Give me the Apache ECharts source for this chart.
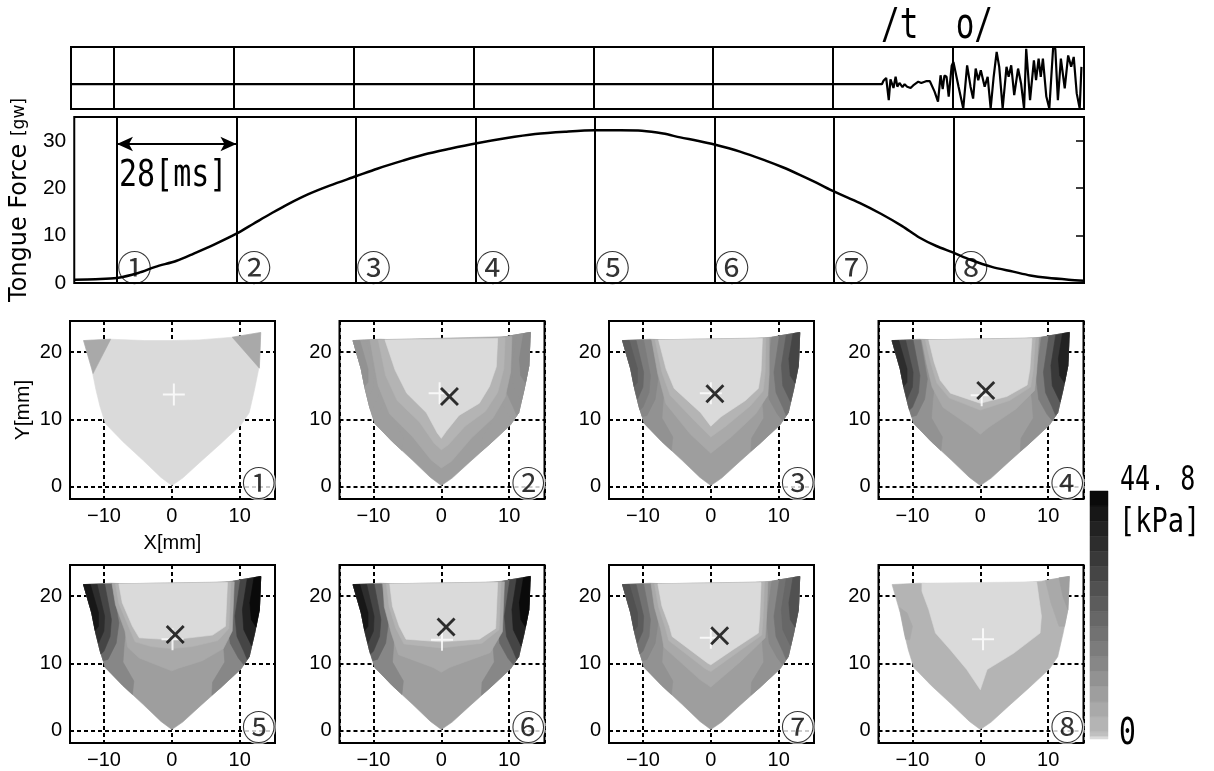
<!DOCTYPE html>
<html><head><meta charset="utf-8">
<script src="https://cdn.jsdelivr.net/npm/echarts@6/dist/echarts.min.js"></script>
<style>html,body{margin:0;padding:0;background:#fff}#c{width:1214px;height:771px}</style>
</head><body><div id="c"></div>
<script>
// ---------- data ----------
const markerTimes = [0, 28, 56, 84, 112, 140, 168, 196];
const markerNames = ['①','②','③','④','⑤','⑥','⑦','⑧'];

const forceT = [-10,-5,0,5,9,14,18,23,28,32,36,40,45,50,56,61,67,72,78,84,91,98,105,112,118,123,128,132,136,140,146,152,156,160,164,168,174,179,184,188,192,196,200,205,210,214,218,223,226.6];
const forceV = [0.7,0.8,1.05,2.1,3.4,4.7,6.2,8.2,10.4,12.5,14.6,16.6,18.8,20.6,22.5,24.1,25.8,27.1,28.3,29.4,30.5,31.4,31.9,32.2,32.2,32.1,31.5,30.7,30.0,29.2,27.7,25.8,24.4,22.8,21.1,19.3,16.9,14.6,12.0,9.6,7.8,6.4,4.9,3.4,2.4,1.6,1.1,0.7,0.5];

const audioT = [-10,179.4,179.8,180.4,181.0,181.4,181.8,182.1,182.6,183.0,183.5,184.2,184.7,185.3,186.1,186.7,187.9,188.6,189.7,190.6,191.7,192.5,193.1,193.6,194.0,194.5,195.0,195.7,196.1,197.3,198.4,199.3,200.1,200.7,201.3,201.9,202.5,203.4,204.1,204.8,205.5,206.2,206.8,207.6,208.5,209.0,209.6,210.3,211.2,211.9,212.6,213.1,214.0,214.9,215.4,216.0,216.5,217.0,217.8,218.5,219.4,219.9,220.5,221.2,222.1,222.9,223.6,224.2,224.9,225.6,226.0];
const audioV = [0,0,0.15,0.25,-0.64,0.2,0.25,-0.15,0.3,-0.1,0.05,-0.12,0.0,-0.1,-0.15,-0.05,0.1,0.05,0.12,0.12,-0.3,-0.7,0.36,-0.2,0.35,0.3,-0.5,0.75,0.9,-0.1,-0.98,0.76,-0.1,-0.58,0.63,0.16,0.56,-0.1,0.3,-0.98,0.3,1.3,0.7,-0.98,0.7,0.3,0.76,-0.44,0.63,0.03,-0.98,1.43,-0.64,0.96,0.16,1.03,0.3,1.03,-0.5,-0.98,1.5,1.43,-0.64,1.03,-0.17,1.16,0.7,1.1,-0.37,-0.98,0.7];

// pressure level colours (band 0 = lowest) and colour-bar band edges [kPa]
const greys = ['#dadada','#c0c0c0','#b4b4b4','#a9a9a9','#9e9e9e','#929292','#878787','#7c7c7c','#727272','#676767','#5c5c5c','#515151','#454545','#393939','#2d2d2d','#222222','#171717','#0a0a0a'];
const cbEdges = [0,0.5,1.3,4.0,6.7,9.5,12.2,14.9,17.6,20.3,23.0,25.8,28.5,31.2,33.9,36.6,39.3,42.1,44.8];

// sensor-sheet outline [mm]
const outline = [[-13.0,21.7],[-9.0,21.9],[-4.0,21.7],[0,21.7],[4.0,21.8],[9.0,22.2],[13.1,22.9],[12.9,18.0],[12.2,14.5],[11.4,11.0],[10.2,9.2],[7.2,6.4],[4.2,3.7],[1.6,1.3],[0,0.2],[-1.6,1.4],[-4.2,3.9],[-7.2,6.7],[-9.8,9.4],[-10.6,12.0],[-11.2,14.5],[-11.8,17.5]];
// wall bands (widest -> narrowest)
const LW5 = [[-13,21.7],[-7.8,21.8],[-6.6,16],[-7.0,13],[-7.2,10.2],[-5.6,7.4],[-5.8,5.4],[-7.2,6.7],[-9.8,9.4],[-10.6,12],[-11.2,14.5],[-11.8,17.5]];
const LW4 = [[-13,21.7],[-8.8,21.8],[-7.8,16],[-8.2,13],[-9.4,10.6],[-10.1,10.4],[-10.6,12],[-11.2,14.5],[-11.8,17.5]];
const LW3 = [[-13,21.7],[-9.9,21.8],[-8.9,16.5],[-9.1,14],[-10.0,11.8],[-10.45,11.4],[-10.6,12],[-11.2,14.5],[-11.8,17.5]];
const LW2 = [[-13,21.7],[-11.0,21.7],[-9.9,17],[-10.0,14.8],[-10.8,13.0],[-11.2,14.5],[-11.8,17.5]];
const LW1 = [[-13,21.7],[-12.0,21.7],[-10.8,17.5],[-10.8,15.5],[-11.3,14.9],[-11.8,17.5]];
const RW5 = [[13.1,22.9],[7.9,22.0],[7.0,16.5],[7.6,13],[7.8,10.2],[6.0,7.2],[5.9,5.3],[7.2,6.4],[10.2,9.2],[11.4,11],[12.2,14.5],[12.9,18]];
const RW4 = [[13.1,22.9],[9.0,22.2],[8.2,16.5],[8.6,13],[9.8,10.8],[10.6,9.8],[11.4,11],[12.2,14.5],[12.9,18]];
const RW3 = [[13.1,22.9],[10.1,22.4],[9.3,17],[9.6,14],[10.6,11.8],[11.1,10.6],[11.4,11],[12.2,14.5],[12.9,18]];
const RW2 = [[13.1,22.9],[11.1,22.5],[10.4,18],[10.6,15],[11.75,12.6],[12.2,14.5],[12.9,18]];
const RW1 = [[13.1,22.9],[12.1,22.7],[11.5,19],[11.7,16.5],[12.4,15.4],[12.9,18]];

const p2L  = [[-8.3,21.8],[8.3,22.0],[8.1,17.8],[7.1,14.9],[5.6,12.4],[2.6,10.6],[0.7,8.2],[0,7.2],[-0.6,8.0],[-2.2,11.0],[-5.1,13.9],[-6.8,17.3]];
const p2V2 = [[-9.3,21.8],[9.4,22.1],[9.2,17.5],[8.3,14],[6.5,11.2],[3.5,9.0],[1.0,6.2],[0,5.5],[-1.0,6.4],[-3.2,9.6],[-6.5,12.8],[-8.2,16.5]];
const p2V1 = [[-10.5,21.8],[10.4,22.3],[10.2,17],[9.4,13.3],[7.6,10.2],[4.4,7.2],[1.5,3.8],[0,2.8],[-1.5,4.0],[-4.2,7.4],[-7.6,10.8],[-9.3,15]];
const p3L  = [[-7.7,21.8],[7.6,22.0],[7.4,17.2],[7.0,14.6],[5.1,12.8],[1.5,10.4],[0,9.0],[-1.5,11.0],[-5.4,14.6],[-6.6,17.5]];
const p3V2 = [[-8.2,21.8],[8.1,22.05],[8.0,17],[7.7,14.2],[5.8,12.0],[2.2,9.0],[0,7.4],[-2.2,9.6],[-6.0,13.6],[-7.2,17]];
const p3V1 = [[-8.7,21.8],[8.6,22.1],[8.6,16.8],[8.4,13.6],[6.6,10.8],[3.0,7.4],[0,5.0],[-3.0,7.8],[-6.6,12.3],[-7.8,16.8]];
const p4L  = [[-7.6,21.8],[7.6,22.0],[7.3,17.5],[6.9,15.1],[3.9,13.4],[0,12.4],[-4.4,13.9],[-5.9,15.8],[-6.8,18.5]];
const p4V2 = [[-8.1,21.8],[8.1,22.05],[7.8,17.4],[7.4,14.8],[4.3,12.8],[0,11.4],[-4.6,13.2],[-6.4,15.4],[-7.3,18.4]];
const p4V1 = [[-8.6,21.8],[8.6,22.1],[8.3,17.2],[8.0,14.3],[5.2,11.5],[1.2,8.8],[0,7.8],[-1.2,8.8],[-5.5,11.8],[-7.1,14.8],[-7.9,18.2]];
const p5L  = [[-7.8,21.8],[8.2,22.0],[7.9,15.5],[6.0,14.2],[0.1,13.5],[-4.8,13.8],[-5.8,15.5],[-7.3,19]];
const p5V2 = [[-8.3,21.8],[8.7,22.05],[8.4,15.2],[6.8,13.4],[3,12.5],[0,12.2],[-3,12.5],[-5.4,13.2],[-6.3,15.3],[-7.8,18.9]];
const p5V1 = [[-8.8,21.8],[9.2,22.1],[8.9,14.8],[7.6,12.2],[4.5,10.4],[1.0,9.3],[0,8.9],[-1.0,9.3],[-4.8,10.8],[-6.5,12.4],[-6.9,14.8],[-8.3,18.7]];
const p6L  = [[-7.6,21.8],[8.3,22.0],[8.0,15.2],[5.6,13.6],[0,13.2],[-5.2,13.6],[-6.2,15.5],[-7.2,18.5]];
const p6V2 = [[-8.1,21.8],[8.8,22.05],[8.5,15.0],[6.0,13.0],[0,12.3],[-5.5,12.9],[-6.7,15.2],[-7.7,18.5]];
const p6V1 = [[-8.6,21.8],[9.3,22.1],[9.0,14.7],[7.2,11.6],[1.2,9.4],[0,8.7],[-1.2,9.4],[-6.3,11.3],[-7.4,14.6],[-8.4,18.4]];
const p7L  = [[-7.8,21.8],[7.4,22.0],[7.2,17],[7.0,14.5],[3.2,12.0],[0,9.8],[-0.4,10.0],[-5.7,14.0],[-6.1,15.5],[-7.2,18.5]];
const p7V2 = [[-8.3,21.8],[7.9,22.05],[7.7,16.9],[7.5,14.2],[3.6,11.4],[0,8.8],[-0.8,9.2],[-6.2,13.4],[-6.7,15.3],[-7.7,18.4]];
const p7V1 = [[-8.8,21.8],[8.4,22.1],[8.2,16.7],[8.0,13.8],[4.4,10.3],[0,6.5],[-1.6,7.6],[-6.9,12.4],[-7.4,15.1],[-8.3,18.3]];
const p8L  = [[-8.6,21.9],[8.3,22.1],[9.0,17],[8.8,14.5],[4.9,11.5],[1.0,9.1],[0,6.1],[-2.0,9.1],[-4.4,12.0],[-6.6,14.5],[-7.6,18],[-8.6,20.7]];
const p8Patch = [[-11.9,18.3],[-10.8,17.5],[-10.0,15.5],[-10.4,13.5],[-11.0,13.6],[-11.3,15.2]];
const p8R1 = [[13.1,22.9],[9.6,22.3],[10.4,19],[11.6,15.5],[12.4,15.5],[12.9,18]];
const p8R2 = [[13.1,22.9],[11.6,22.7],[12.2,19.8],[12.9,18]];
const p1TL = [[-13.0,21.7],[-9.0,21.9],[-11.6,16.8],[-11.8,17.5]];
const p1TR = [[8.9,22.2],[13.1,22.9],[12.9,17.6]];

// [level index, polygon] painted in order
const panel1 = [[0,outline],[3,p1TL],[3,p1TR]];
const panel2 = [[4,outline],[4,LW5],[4,LW4],[4,LW3],[4,LW2],[5,LW1],[4,RW5],[4,RW4],[5,RW3],[5,RW2],[6,RW1],[3,p2V1],[2,p2V2],[0,p2L]];
const panel3 = [[4,outline],[5,LW5],[6,LW4],[7,LW3],[9,LW2],[10,LW1],[5,RW5],[6,RW4],[8,RW3],[10,RW2],[12,RW1],[3,p3V1],[2,p3V2],[0,p3L]];
const panel4 = [[4,outline],[5,LW5],[7,LW4],[10,LW3],[12,LW2],[14,LW1],[5,RW5],[7,RW4],[10,RW3],[13,RW2],[15,RW1],[3,p4V1],[2,p4V2],[0,p4L]];
const panel5 = [[4,outline],[6,LW5],[9,LW4],[12,LW3],[14,LW2],[16,LW1],[6,RW5],[9,RW4],[12,RW3],[15,RW2],[17,RW1],[3,p5V1],[2,p5V2],[0,p5L]];
const panel6 = [[4,outline],[6,LW5],[9,LW4],[12,LW3],[14,LW2],[16,LW1],[6,RW5],[9,RW4],[12,RW3],[15,RW2],[17,RW1],[3,p6V1],[2,p6V2],[0,p6L]];
const panel7 = [[4,outline],[5,LW5],[6,LW4],[8,LW3],[10,LW2],[11,LW1],[5,RW5],[6,RW4],[8,RW3],[9,RW2],[11,RW1],[3,p7V1],[2,p7V2],[0,p7L]];
const panel8 = [[2,outline],[3,p8Patch],[3,p8R1],[4,p8R2],[0,p8L]];
const panels = [panel1,panel2,panel3,panel4,panel5,panel6,panel7,panel8];

const plusPts  = [[0.3,13.7],[-0.25,13.9],[0,13.9],[0.2,13.6],[0.1,13.6],[0.1,13.5],[0,13.8],[0.4,13.6]];
const crossPts = [null,[1.2,13.4],[0.6,13.8],[0.8,14.3],[0.5,14.3],[0.7,15.4],[1.3,14.1],null];

// ---------- layout ----------
const PL = [70, 339.5, 609, 878.5], PT = [321, 565], PW = 205, PH = 178;
const tickFont = {fontSize: 20, fontFamily: 'Liberation Sans, Arial, sans-serif', color: '#000'};
const monoFont = '"DejaVu Sans Mono", "Liberation Mono", monospace';
const cjkFont = '"Noto Sans CJK JP", sans-serif';
const border = {show: true, borderColor: '#000', borderWidth: 2, backgroundColor: 'transparent'};

const grids = [
  Object.assign({left: 71, top: 47, width: 1013, height: 62}, border),
  Object.assign({left: 71, top: 117, width: 1013, height: 166}, border)
];
for (let i = 0; i < 8; i++) grids.push(Object.assign({left: PL[i % 4], top: PT[Math.floor(i / 4)], width: PW, height: PH}, border));
grids.push({left: 1090, top: 491, width: 18, height: 248});

const hidden = {axisLine:{show:false}, axisTick:{show:false}, axisLabel:{show:false}, splitLine:{show:false}};
const xAxes = [
  Object.assign({type:'value', gridIndex:0, min:-10, max:226.6}, hidden),
  Object.assign({type:'value', gridIndex:1, min:-10, max:226.6}, hidden)
];
const yAxes = [
  Object.assign({type:'value', gridIndex:0, min:-1, max:1.5}, hidden),
  {type:'value', gridIndex:1, min:0, max:35, interval:10,
   axisLine:{show:false}, axisTick:{show:false}, splitLine:{show:false},
   axisLabel:{margin:8, showMaxLabel:false, fontSize:21, fontFamily:tickFont.fontFamily, color:'#000'},
   name:'Tongue Force {s|[gw]}', nameLocation:'middle', nameGap:32, nameRotate:90,
   nameTextStyle:{fontSize:24, fontFamily:'DejaVu Sans, sans-serif', color:'#000', rich:{s:{fontSize:17, fontFamily:'DejaVu Sans, sans-serif', color:'#000'}}}},
  {type:'value', gridIndex:1, min:0, max:35, interval:10, position:'right',
   axisLine:{show:false}, axisLabel:{show:false}, splitLine:{show:false},
   axisTick:{show:true, inside:true, length:8, lineStyle:{color:'#000', width:1.5}}}
];
const gridLine = {show:true, lineStyle:{color:'#000', width:2, type:[4,3]}};
for (let i = 0; i < 8; i++) {
  const xa = {type:'value', gridIndex:2+i, min:-15, max:15.2, splitNumber:3,
    axisLine:{show:false}, axisTick:{show:false}, splitLine:gridLine,
    axisLabel:Object.assign({margin:7, showMinLabel:false, showMaxLabel:false,
      formatter: v => v < 0 ? '\u2212' + (-v) : String(v)}, tickFont)};
  const ya = {type:'value', gridIndex:2+i, min:-1.8, max:24.6, splitNumber:3,
    axisLine:{show:false}, axisTick:{show:false}, splitLine:gridLine,
    axisLabel:Object.assign({margin:8, showMinLabel:false, showMaxLabel:false}, tickFont)};
  if (i === 0) {
    Object.assign(xa, {name:'X[mm]', nameLocation:'middle', nameGap:34, nameTextStyle:{fontSize:20, fontFamily:tickFont.fontFamily, color:'#000'}});
    Object.assign(ya, {name:'Y[mm]', nameLocation:'middle', nameGap:36, nameTextStyle:{fontSize:21, fontFamily:tickFont.fontFamily, color:'#000'}});
  }
  xAxes.push(xa); yAxes.push(ya);
}
xAxes.push(Object.assign({type:'value', gridIndex:10, min:0, max:1}, hidden));
yAxes.push(Object.assign({type:'value', gridIndex:10, min:0, max:44.8}, hidden));

const vLines = markerTimes.map(t => ({xAxis: t}));
const series = [
  {type:'line', xAxisIndex:0, yAxisIndex:0, data: audioT.map((t,i)=>[t, audioV[i]]),
   showSymbol:false, lineStyle:{color:'#000', width:2.2}, z:3,
   markLine:{silent:true, symbol:'none', label:{show:false}, lineStyle:{color:'#000', width:2, type:'solid'}, data: vLines}},
  {type:'line', xAxisIndex:1, yAxisIndex:1, data: forceT.map((t,i)=>[t, forceV[i]]),
   showSymbol:false, smooth:0.3, lineStyle:{color:'#000', width:2.5}, z:3,
   markLine:{silent:true, symbol:'none', label:{show:false}, lineStyle:{color:'#000', width:2, type:'solid'},
     data: vLines.concat([[{coord:[0,29.3], symbol:'arrow', symbolSize:[11,16]}, {coord:[28,29.3], symbol:'arrow', symbolSize:[11,16]}]])}},
  {type:'scatter', xAxisIndex:1, yAxisIndex:1, symbolSize:0, z:4, silent:true,
   data: markerTimes.map(t => [t, 3.3]),
   label:{show:true, position:'right', distance:0, formatter: p => markerNames[p.dataIndex],
     fontSize:35, fontFamily:cjkFont, color:'#000'}}
];

function regionRenderer(regs) {
  return function (params, api) {
    const r = regs[params.dataIndex];
    return {type:'polygon', shape:{points: r[1].map(p => api.coord(p))},
            style:{fill: greys[r[0]], stroke: greys[r[0]], lineWidth: 0.6}};
  };
}
const plusPath = 'path://M10,0h2v10h10v2h-10v10h-2v-10h-10v-2h10z';
const crossPath = 'path://M11,0h3v11h11v3h-11v11h-3v-11h-11v-3h11z';
for (let i = 0; i < 8; i++) {
  const regs = panels[i];
  series.push({type:'custom', xAxisIndex:2+i, yAxisIndex:3+i, silent:true, z:2, clip:false,
    renderItem: regionRenderer(regs), data: regs.map(r => r[1][0])});
  series.push({type:'scatter', xAxisIndex:2+i, yAxisIndex:3+i, silent:true, z:3,
    symbol: plusPath, symbolSize: 22, itemStyle:{color:'#fff'}, data:[plusPts[i]]});
  if (crossPts[i]) series.push({type:'scatter', xAxisIndex:2+i, yAxisIndex:3+i, silent:true, z:4,
    symbol: crossPath, symbolSize: 24, symbolRotate: 45, itemStyle:{color:'#000'}, data:[crossPts[i]]});
  series.push({type:'scatter', xAxisIndex:2+i, yAxisIndex:3+i, silent:true, z:5, symbolSize:0,
    data:[[12.8, 0.6]],
    label:{show:true, position:'inside', formatter: markerNames[i], fontSize:34,
      fontFamily:cjkFont, color:'#000', backgroundColor:'#fff', borderRadius:16, padding:0}});
}
series.push({type:'custom', xAxisIndex:10, yAxisIndex:11, silent:true, clip:false,
  data: greys.map((g, i) => [0, cbEdges[i]]),
  renderItem: function (params, api) {
    const i = params.dataIndex;
    const p0 = api.coord([0, cbEdges[i]]), p1 = api.coord([1, cbEdges[i + 1]]);
    return {type:'rect', shape:{x:p0[0], y:p1[1], width:p1[0]-p0[0], height:p0[1]-p1[1]},
            style:{fill: greys[i], stroke: greys[i], lineWidth: 0.5}};
  }});

function txt(text, x, y, size, sy) {
  return {type:'text', x:x, y:y, scaleY:sy, silent:true,
    style:{text:text, font: size + 'px ' + monoFont, fill:'#000', textVerticalAlign:'top', verticalAlign:'top'}};
}

const option = {
  animation:false, backgroundColor:'#fff',
  grid: grids, xAxis: xAxes, yAxis: yAxes, series: series,
  graphic: [
    txt('28[ms]', 119, 158, 30, 1.25),
    txt('/t  o/', 881, 5, 31, 1.4),
    txt('44. 8', 1120, 464, 25, 1.35),
    txt('[kPa]', 1119, 506, 27, 1.25),
    txt('0', 1119, 716, 28, 1.3)
  ]
};
const chart = echarts.init(document.getElementById('c'));
chart.setOption(option);
</script></body></html>
